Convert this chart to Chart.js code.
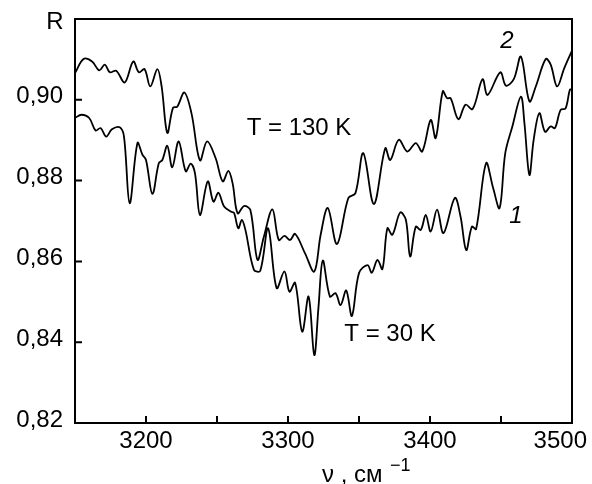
<!DOCTYPE html>
<html>
<head>
<meta charset="utf-8">
<script src="https://cdn.jsdelivr.net/npm/chart.js@4.4.0/dist/chart.umd.min.js"></script>
<style>
    html, body { margin: 0; padding: 0; background: #fff; }
</style>
</head>
<body>
<canvas id="myChart" width="592" height="484"></canvas>
<script>
// curve 1, T = 30 K
var wavenumber_1 = [3150, 3154.5, 3160, 3164.5, 3168, 3172, 3176, 3181.5, 3184.5, 3188.5, 3194, 3197.5, 3200, 3204.5, 3209, 3211.5, 3215, 3218.5, 3223, 3228, 3231.5, 3234.5, 3238, 3243.5, 3247.5, 3251, 3255, 3260, 3262, 3265, 3267.5, 3270, 3276, 3280.5, 3286, 3292, 3297.5, 3301, 3305, 3310, 3314.5, 3318.5, 3321.5, 3324.5, 3329.5, 3333.5, 3337, 3341, 3345, 3350, 3356, 3359, 3363, 3366.5, 3370, 3373.5, 3379, 3383, 3386, 3390, 3393.5, 3397, 3400.5, 3405, 3409.5, 3417.5, 3421.5, 3425.5, 3429.5, 3432.5, 3439.5, 3444.5, 3449, 3453, 3458, 3464, 3466.5, 3470, 3473, 3477, 3481, 3485, 3488, 3492, 3495.5, 3498.5, 3500];
var reflect_1 = [0.8955, 0.8963, 0.8955, 0.8924, 0.8930, 0.8909, 0.8927, 0.8932, 0.8909, 0.8744, 0.8893, 0.8864, 0.8851, 0.8767, 0.8843, 0.8851, 0.8886, 0.8833, 0.8897, 0.8823, 0.8842, 0.8818, 0.8715, 0.8798, 0.8748, 0.8770, 0.8736, 0.8723, 0.8720, 0.8682, 0.8703, 0.8678, 0.8579, 0.8577, 0.8682, 0.8534, 0.8575, 0.8525, 0.8547, 0.8426, 0.8513, 0.8368, 0.8488, 0.8602, 0.8513, 0.8521, 0.8492, 0.8528, 0.8465, 0.8571, 0.8591, 0.8572, 0.8604, 0.8581, 0.8682, 0.8666, 0.8721, 0.8703, 0.8612, 0.8686, 0.8678, 0.8715, 0.8674, 0.8728, 0.8670, 0.8757, 0.8711, 0.8628, 0.8686, 0.8680, 0.8843, 0.8781, 0.8732, 0.8868, 0.8934, 0.9008, 0.8942, 0.8814, 0.8901, 0.8967, 0.8921, 0.8934, 0.8930, 0.8975, 0.8979, 0.9025, 0.9024];

// curve 2, T = 130 K
var wavenumber_2 = [3150, 3156, 3162, 3167, 3171, 3174.5, 3179, 3185, 3191, 3195, 3199, 3203, 3208, 3211, 3215, 3219, 3222, 3227, 3232, 3238, 3243, 3249, 3254, 3258, 3261, 3264.5, 3269, 3273.5, 3278.5, 3283, 3289, 3293.5, 3297.5, 3301.5, 3305, 3312, 3318.5, 3323, 3328, 3334.5, 3342.5, 3347.5, 3353, 3360.5, 3368.5, 3372, 3378, 3384, 3390, 3394.5, 3400.5, 3404, 3409, 3412, 3414.5, 3420, 3425, 3430, 3437, 3440.5, 3449.5, 3453.5, 3459, 3464, 3470, 3474.5, 3481.5, 3485, 3489.5, 3494.5, 3500];
var reflect_2 = [0.9066, 0.9101, 0.9095, 0.9073, 0.9087, 0.9068, 0.9072, 0.9043, 0.9095, 0.9068, 0.9076, 0.9033, 0.9076, 0.9033, 0.8918, 0.8980, 0.8983, 0.9018, 0.8967, 0.8850, 0.8897, 0.8856, 0.8798, 0.8824, 0.8793, 0.8719, 0.8737, 0.8727, 0.8604, 0.8661, 0.8729, 0.8653, 0.8663, 0.8653, 0.8668, 0.8620, 0.8575, 0.8666, 0.8732, 0.8643, 0.8757, 0.8769, 0.8868, 0.8742, 0.8880, 0.8851, 0.8901, 0.8872, 0.8893, 0.8872, 0.8950, 0.8905, 0.9021, 0.9004, 0.9004, 0.8952, 0.8988, 0.8977, 0.9051, 0.9012, 0.9068, 0.9035, 0.9051, 0.9107, 0.8996, 0.9033, 0.9101, 0.9087, 0.9033, 0.9078, 0.9122];

var x_ticks = [3200, 3300, 3400, 3500];
var x_minor = [3250, 3350, 3450];
var y_ticks = [0.82, 0.84, 0.86, 0.88, 0.90];

var font_family = "'Liberation Sans', Arial, sans-serif";

function to_points(xs, ys) {
    return xs.map((x, i) => ({ x: x, y: ys[i] }));
}

// box, inward ticks and the text inside the plot
const frame_plugin = {
    id: 'frame',
    afterDraw(chart) {
        const c = chart.ctx;
        const a = chart.chartArea;
        const xs = chart.scales.x;
        const ys = chart.scales.y;
        c.save();
        c.strokeStyle = '#000';
        c.lineWidth = 2;
        c.strokeRect(a.left, a.top, a.right - a.left, a.bottom - a.top);
        c.beginPath();
        x_ticks.concat(x_minor).forEach(v => {
            const px = xs.getPixelForValue(v);
            c.moveTo(px, a.bottom);
            c.lineTo(px, a.bottom - 7);
        });
        y_ticks.forEach(v => {
            const py = ys.getPixelForValue(v);
            c.moveTo(a.left, py);
            c.lineTo(a.left + 7, py);
        });
        c.stroke();

        c.fillStyle = '#000';
        c.font = '24px ' + font_family;
        c.textBaseline = 'top';
        x_ticks.forEach((v, i) => {
            const px = xs.getPixelForValue(v);
            if (i == x_ticks.length - 1) {
                c.textAlign = 'right';
                c.fillText(String(v), 587, a.bottom + 6);
            } else {
                c.textAlign = 'center';
                c.fillText(String(v), px, a.bottom + 6);
            }
        });

        c.textBaseline = 'middle';
        c.textAlign = 'center';
        c.fillText('R', 55, 22);
        c.fillText('T = 130 K', 299, 128);
        c.fillText('T = 30 K', 390, 334);
        c.font = 'italic 24px ' + font_family;
        c.fillText('2', 507, 41);
        c.fillText('1', 516, 216);

        // axis title with superscript
        c.textBaseline = 'alphabetic';
        c.textAlign = 'left';
        c.font = '24px ' + font_family;
        c.fillText('\u03bd , \u0441\u043c', 322, 482);
        c.font = '18px ' + font_family;
        c.fillText('\u22121', 390, 471);
        c.restore();
    }
};

const ctx = document.getElementById('myChart').getContext('2d');
const myChart = new Chart(ctx, {
    type: 'line',
    data: {
        datasets: [{
            label: '1',
            data: to_points(wavenumber_1, reflect_1),
            borderColor: '#000',
            borderWidth: 1.8,
            pointRadius: 0,
            tension: 0.35,
            fill: false
        }, {
            label: '2',
            data: to_points(wavenumber_2, reflect_2),
            borderColor: '#000',
            borderWidth: 1.8,
            pointRadius: 0,
            tension: 0.35,
            fill: false
        }]
    },
    options: {
        responsive: false,
        animation: false,
        devicePixelRatio: 1,
        layout: { padding: { left: 0, right: 20, top: 19, bottom: 0 } },
        plugins: { legend: { display: false }, tooltip: { enabled: false } },
        scales: {
            x: {
                type: 'linear',
                min: 3150,
                max: 3500,
                grid: { display: false, drawTicks: false },
                border: { display: false },
                ticks: { display: false },
                afterFit: scale => { scale.height = 61; scale.paddingLeft = 0; scale.paddingRight = 0; }
            },
            y: {
                min: 0.82,
                max: 0.92,
                grid: { display: false, drawTicks: false },
                border: { display: false },
                afterBuildTicks: scale => { scale.ticks = y_ticks.map(v => ({ value: v })); },
                ticks: {
                    color: '#000',
                    padding: 12,
                    labelOffset: -3,
                    font: { family: font_family, size: 24 },
                    callback: v => v.toFixed(2).replace('.', ',')
                },
                afterFit: scale => { scale.width = 75; scale.paddingTop = 0; scale.paddingBottom = 0; }
            }
        }
    },
    plugins: [frame_plugin]
});
</script>
</body>
</html>
